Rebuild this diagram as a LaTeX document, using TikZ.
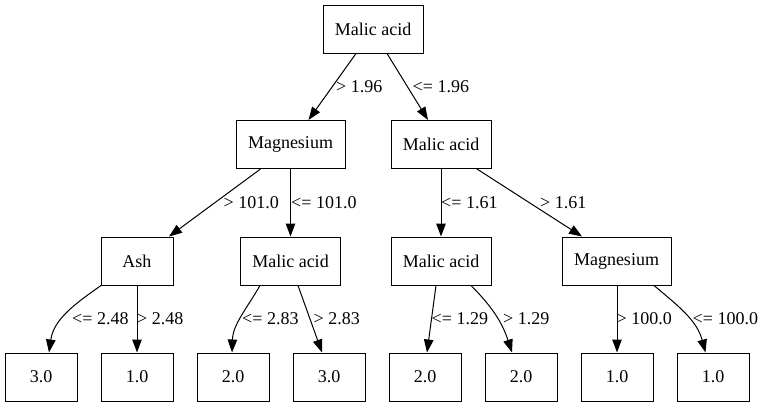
\documentclass[tikz,border=0pt]{standalone}
\usepackage{fontspec}
\setmainfont{Liberation Serif}
\usetikzlibrary{arrows.meta}
\begin{document}
\begin{tikzpicture}[x=1pt,y=1pt,
  box/.style={draw,line width=1pt,minimum height=48pt,inner sep=0pt,font=\fontsize{18}{21}\selectfont},
  wbox/.style={box,minimum width=109pt},
  mbox/.style={box,minimum width=100pt},
  sbox/.style={box,minimum width=72pt},
  arr/.style={line width=1pt,-{Triangle[length=13pt,width=9.5pt]}},
  lbl/.style={anchor=base west,inner sep=0pt,font=\fontsize{18}{21}\selectfont}]
\useasboundingbox (0,0) rectangle (768,-407);
% nodes
\node[mbox] (root) at (373,-29) {Malic acid};
\node[wbox] (m1) at (290.5,-144.5) {Magnesium};
\node[mbox] (r1) at (441,-144.5) {Malic acid};
\node[sbox] (ash) at (137,-261) {Ash};
\node[mbox] (m2) at (290.5,-261) {Malic acid};
\node[mbox] (r2) at (441,-261) {Malic acid};
\node[wbox] (g2) at (616.5,-261) {Magnesium};
\node[sbox] (l1) at (41,-377) {3.0};
\node[sbox] (l2) at (137,-377) {1.0};
\node[sbox] (l3) at (233,-377) {2.0};
\node[sbox] (l4) at (329,-377) {3.0};
\node[sbox] (l5) at (425,-377) {2.0};
\node[sbox] (l6) at (521,-377) {2.0};
\node[sbox] (l7) at (617,-377) {1.0};
\node[sbox] (l8) at (713,-377) {1.0};
% edges
\draw[arr] ([xshift=-17]root.south) -- ([xshift=18]m1.north);
\draw[arr] ([xshift=14]root.south) -- ([xshift=-13]r1.north);
\draw[arr] ([xshift=-30]m1.south) -- ([xshift=32]ash.north);
\draw[arr] (m1.south) -- (m2.north);
\draw[arr] (r1.south) -- (r2.north);
\draw[arr] ([xshift=36]r1.south) -- ([xshift=-34.5]g2.north);
\draw[arr] ([xshift=-36]ash.south) to[out=-145,in=82] ([xshift=8]l1.north);
\draw[arr] (ash.south) -- (l2.north);
\draw[arr] ([xshift=-30.5]m2.south) to[out=-120,in=88] ([xshift=-1]l3.north);
\draw[arr] ([xshift=7.5]m2.south) -- ([xshift=-7]l4.north);
\draw[arr] ([xshift=-5]r2.south) -- ([xshift=2]l5.north);
\draw[arr] ([xshift=30]r2.south) to[out=-45,in=108] ([xshift=-9]l6.north);
\draw[arr] ([xshift=0.5]g2.south) -- (l7.north);
\draw[arr] ([xshift=37.5]g2.south) to[out=-40,in=105] ([xshift=-7.5]l8.north);
% labels
\node[lbl] (t1) at (336,-92) {> 1.96};
\node[lbl] (t2) at (412.5,-92) {<= 1.96};
\node[lbl] (t3) at (223.5,-208) {> 101.0};
\node[lbl] (t4) at (291,-208) {<= 101.0};
\node[lbl] (t5) at (441,-208) {<= 1.61};
\node[lbl] (t6) at (540,-208) {> 1.61};
\node[lbl] (t7) at (72,-324) {<= 2.48};
\node[lbl] (t8) at (137,-324) {> 2.48};
\node[lbl] (t9) at (242,-324) {<= 2.83};
\node[lbl] (t10) at (313.5,-324) {> 2.83};
\node[lbl] (t11) at (431.5,-324) {<= 1.29};
\node[lbl] (t12) at (503,-324) {> 1.29};
\node[lbl] (t13) at (616.5,-324) {> 100.0};
\node[lbl] (t14) at (692.5,-324) {<= 100.0};
\end{tikzpicture}
\end{document}
